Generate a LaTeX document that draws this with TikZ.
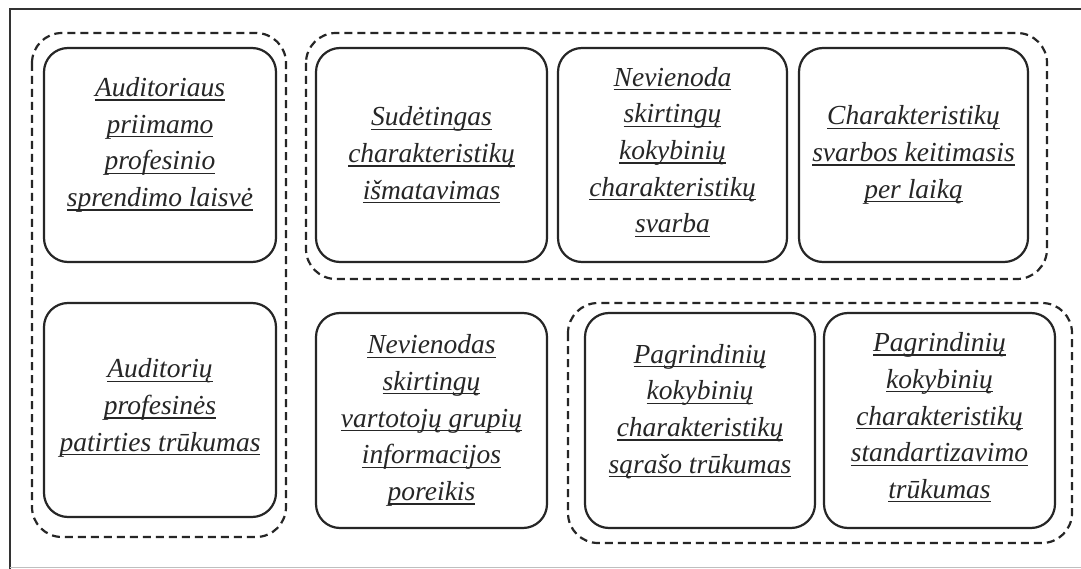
\documentclass[tikz,border=0pt]{standalone}
\usepackage{fontspec}
\setmainfont{Liberation Serif}[ItalicFont={Liberation Serif Italic}]
\newfontfamily\lsi{Liberation Serif Italic}
\newsavebox{\ulbx}
\newcommand{\ulx}[1]{\sbox{\ulbx}{#1}\rlap{\rule[-4pt]{\wd\ulbx}{1.2pt}}\usebox{\ulbx}}
\begin{document}
\begin{tikzpicture}[x=1pt,y=-1pt,
  box/.style={draw=black!85, line width=2.2pt, rounded corners=24pt},
  txt/.style={align=center, font=\lsi\fontsize{27.5}{36.7}\selectfont, text=black!85, inner sep=0pt},
  grp/.style={draw=black!85, line width=2.2pt, dash pattern=on 8pt off 5pt, rounded corners=30pt}]
\useasboundingbox (0,0) rectangle (1081,569);
\fill[white] (0,0) rectangle (1081,569);
% frame
\draw[black!80, line width=2pt] (10,569) -- (10,9) -- (1081,9);
\draw[black!25, line width=1pt] (10,567.5) -- (1081,567.5);
% groups
\draw[grp] (32,33) rectangle (286,537);
\draw[grp] (306,33) rectangle (1047,279);
\draw[grp] (568,303) rectangle (1072,543);
% boxes
\draw[box] (44,48) rectangle (276,262) node[midway] (b1) {};
\draw[box] (316,48) rectangle (547,262) node[midway] (b2) {};
\draw[box] (558,48) rectangle (787,262) node[midway] (b3) {};
\draw[box] (799,48) rectangle (1028,262) node[midway] (b5) {};
\draw[box] (44,303) rectangle (276,517) node[midway] (b4) {};
\draw[box] (316,313) rectangle (547,528) node[midway] (b6) {};
\draw[box] (585,313) rectangle (815,528) node[midway] (b7) {};
\draw[box] (824,313) rectangle (1055,528) node[midway] (b8) {};
% texts
\node[txt] (t1) at ([yshift=10pt]b1) {\ulx{Auditoriaus}\\\ulx{priimamo}\\\ulx{profesinio}\\\ulx{sprendimo laisvė}};
\node[txt] (t2) at (b2) {\ulx{Sudėtingas}\\\ulx{charakteristikų}\\\ulx{išmatavimas}};
\node[txt] (t3) at ([yshift=3pt]b3) {\ulx{Nevienoda}\\\ulx{skirtingų}\\\ulx{kokybinių}\\\ulx{charakteristikų}\\\ulx{svarba}};
\node[txt] (t5) at (b5) {\ulx{Charakteristikų}\\\ulx{svarbos keitimasis}\\\ulx{per laiką}};
\node[txt] (t4) at ([yshift=2pt]b4) {\ulx{Auditorių}\\\ulx{profesinės}\\\ulx{patirties trūkumas}};
\node[txt] (t6) at (b6) {\ulx{Nevienodas}\\\ulx{skirtingų}\\\ulx{vartotojų grupių}\\\ulx{informacijos}\\\ulx{poreikis}};
\node[txt] (t7) at ([yshift=9pt]b7) {\ulx{Pagrindinių}\\\ulx{kokybinių}\\\ulx{charakteristikų}\\\ulx{sąrašo trūkumas}};
\node[txt] (t8) at ([yshift=3pt]b8) {\ulx{Pagrindinių}\\\ulx{kokybinių}\\\ulx{charakteristikų}\\\ulx{standartizavimo}\\\ulx{trūkumas}};
\end{tikzpicture}
\end{document}
